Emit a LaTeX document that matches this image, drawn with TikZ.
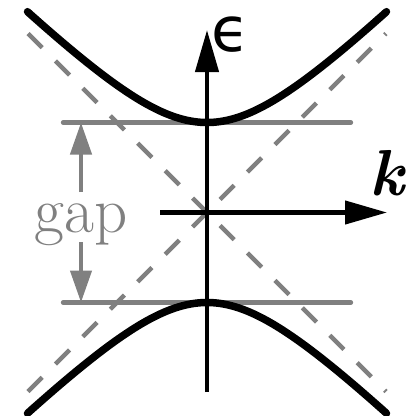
\documentclass[tikz,border=0pt]{standalone}
\usepackage{fontspec}
\newfontfamily\dejavu{DejaVu Sans}
\usetikzlibrary{arrows.meta}
\begin{document}
\begin{tikzpicture}[x=1pt,y=-1pt,
  hyp/.style={line width=7.5pt, line cap=round},
  axisline/.style={line width=4.3pt, -{Triangle[length=42pt,width=23pt]}},
  gapline/.style={gray, line width=4.3pt, line cap=round},
  gaparrow/.style={gray, line width=4.3pt, -{Triangle[length=32pt,width=21pt]}},
  asym/.style={gray, line width=4.3pt, dash pattern=on 20pt off 18.8pt},
  bigfont/.style={inner sep=0pt, font=\fontsize{65}{65}\selectfont}]
\useasboundingbox (0,0) rectangle (408,416);
% key points
\coordinate (O) at (207,212.5);
\coordinate (aTL) at (28,33.5);
\coordinate (aBR) at (386,391.5);
\coordinate (aBL) at (28,391.5);
\coordinate (aTR) at (386,33.5);
\coordinate (l1a) at (63,122.5);
\coordinate (l1b) at (351,122.5);
\coordinate (l2a) at (63,302.5);
\coordinate (l2b) at (351,302.5);
\coordinate (vb) at (207,392);
\coordinate (vt) at (207,30);
\coordinate (hl) at (160,212.5);
\coordinate (hr) at (387,212.5);
\coordinate (gu) at (81,192);
\coordinate (gut) at (81,122.5);
\coordinate (gd) at (81,242);
\coordinate (gdt) at (81,302.5);
% asymptotes
\draw[asym] (aTL) -- (aBR);
\draw[asym] (aBL) -- (aTR);
% gap lines
\draw[gapline] (l1a) -- (l1b);
\draw[gapline] (l2a) -- (l2b);
% gap label and arrows
\node[bigfont, gray, anchor=base] (gaplabel) at (81,232) {gap};
\draw[gaparrow] (gu) -- (gut);
\draw[gaparrow] (gd) -- (gdt);
% axes
\draw[axisline] (vb) -- (vt);
\draw[axisline] (hl) -- (hr);
% bands
\draw[hyp] plot[domain=-179.5:179.5, samples=81, smooth] ({207+\x}, {212.5-10*sqrt(81+(\x/10)^2)});
\draw[hyp] plot[domain=-179.5:179.5, samples=81, smooth] ({207+\x}, {212.5+10*sqrt(81+(\x/10)^2)});
% labels
\node[inner sep=0pt, font=\dejavu\fontsize{62}{62}\selectfont] (eps) at (231,34.5) {ϵ};
\node[bigfont] (k) at (388,173.5) {\textbf{\textit{k}}};
\end{tikzpicture}
\end{document}
